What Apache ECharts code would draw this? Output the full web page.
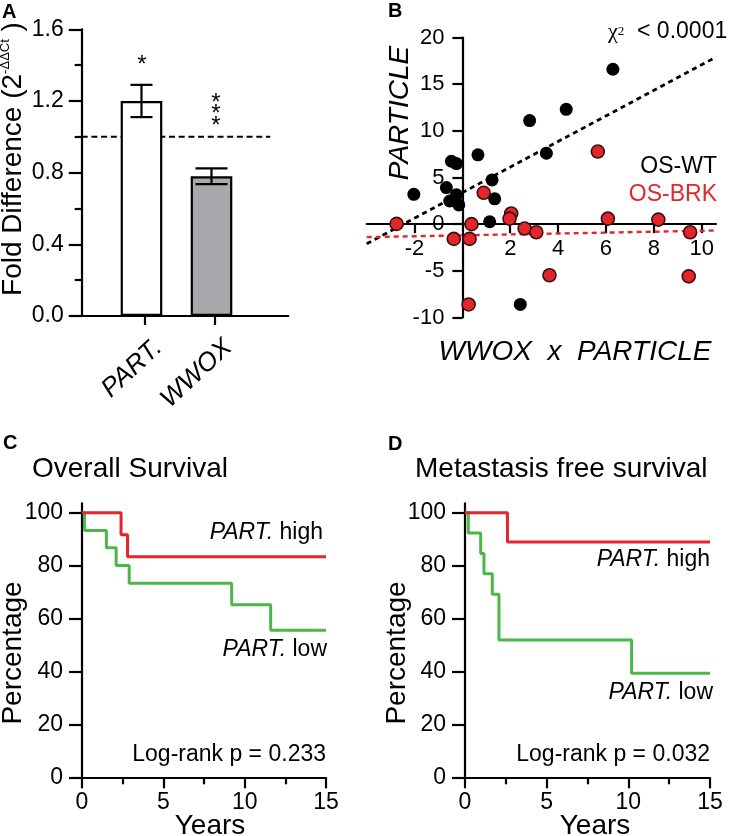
<!DOCTYPE html>
<html><head><meta charset="utf-8">
<script src="https://cdn.jsdelivr.net/npm/echarts@6/dist/echarts.min.js"></script>
<style>html,body{margin:0;padding:0;background:#fff;}#c{width:731px;height:836px;}</style>
</head><body><div id="c"></div>
<script>
// ---------- Panel A : fold difference ----------
const foldCategories = ['PART.', 'WWOX'];
const foldPositions = [1, 2];
const foldMeans = [1.2, 0.78];
const foldErrors = [0.09, 0.044];
const foldReference = 1.0;
const foldRefSpan = [0.146, 2.84];
const foldSignif = ['*', '***'];
// ---------- Panel B : scatter ----------
const wtX = [6.29, 4.34, 2.81, 3.51, 0.65, -0.46, -0.25, 1.24, -0.67, -2.03, -0.25, -0.53, 1.35, -0.15, 1.14, 2.42];
const wtY = [16.6, 12.3, 11.1, 7.6, 7.43, 6.74, 6.49, 4.74, 3.92, 3.2, 3.14, 2.48, 2.72, 2.06, 0.26, -8.6];
const brkX = [5.66, 0.89, 2.04, 1.97, 6.08, 8.19, -2.75, 0.38, 2.6, 3.09, 9.52, -0.36, 0.3, 3.64, 9.46, 0.26];
const brkY = [7.78, 3.36, 1.15, 0.59, 0.59, 0.49, 0.03, 0.0, -0.47, -0.87, -0.87, -1.58, -1.58, -5.47, -5.59, -8.6];
const wtFit = [[-4, -2.1], [10.6, 17.9]];
const brkFit = [[-4, -1.39], [10.6, -0.68]];
const scatterXRange = [-4, 10.6];
const scatterYRange = [-10, 20];
const scatterXTicks = [-2, 2, 4, 6, 8, 10];
const scatterGroups = ['OS-WT', 'OS-BRK'];
// ---------- Panel C : overall survival ----------
const osHighT = [0, 2.4, 2.8, 15];
const osHighS = [100, 91.7, 83.3, 83.3];
const osLowT = [0, 0.15, 1.5, 2.1, 2.9, 9.2, 11.6, 15];
const osLowS = [100, 93.3, 86.7, 80, 73.3, 65.2, 55.6, 55.6];
const osPval = 'Log-rank p = 0.233';
// ---------- Panel D : metastasis free survival ----------
const mfsHighT = [0, 2.6, 15];
const mfsHighS = [100, 88.9, 88.9];
const mfsLowT = [0, 0.2, 0.96, 1.16, 1.67, 2.08, 10.2, 15];
const mfsLowS = [100, 92.3, 84.6, 76.9, 69.2, 51.9, 39.3, 39.3];
const mfsPval = 'Log-rank p = 0.032';
const survTicks = [0, 20, 40, 60, 80, 100];

const FF = '"Liberation Sans", Arial, sans-serif';
const RED = '#e4252b', GREEN = '#4bb749', GRAY = '#a7a9ac';
const AX = {color: '#000', width: 2.2};
const barFills = ['#ffffff', GRAY];
const capHalf = [11, 16];

// layout of panel B (axes cross at the origin)
const gB = {left: 366.7, top: 37.5, width: 349.3, height: 280};
const x0px = gB.left + (0 - scatterXRange[0]) / (scatterXRange[1] - scatterXRange[0]) * gB.width;
const y0px = gB.top + (scatterYRange[1] - 0) / (scatterYRange[1] - scatterYRange[0]) * gB.height;

function pairs(xs, ys) { return xs.map((x, i) => [x, ys[i]]); }
function lbl(extra) { return Object.assign({color: '#000', fontFamily: FF, fontSize: 23}, extra); }
function hiddenAxis(gi, min, max) {
  return {gridIndex: gi, type: 'value', min: min, max: max, show: false,
    axisLine: {show: false}, axisTick: {show: false}, axisLabel: {show: false}, splitLine: {show: false}};
}

function txt(x, y, text, o) {
  o = o || {};
  const st = {
    text: text, fill: o.fill || '#000', fontFamily: o.family || FF,
    fontSize: o.size || 23, fontStyle: o.italic ? 'italic' : 'normal',
    fontWeight: o.bold ? 'bold' : 'normal',
    textAlign: o.align || 'center', align: o.align || 'center',
    textVerticalAlign: 'middle', verticalAlign: 'middle'
  };
  if (o.rich) st.rich = o.rich;
  return {type: 'text', x: x, y: y, rotation: o.rot || 0, style: st, z: 100};
}
const italicRich = {i: {fontStyle: 'italic', fontFamily: FF, fontSize: 23, fill: '#000', color: '#000'}};

const option = {
  animation: false,
  backgroundColor: '#fff',
  grid: [
    {left: 81.7, top: 29.3, width: 206.6, height: 286.7},
    gB,
    {left: x0px, top: gB.top, width: 1, height: gB.height},
    {left: gB.left, top: y0px - 10, width: gB.width, height: 10},
    {left: 82, top: 503.4, width: 244, height: 273.9},
    {left: 465, top: 503.4, width: 245, height: 273.9}
  ],
  xAxis: [
    {gridIndex: 0, type: 'value', min: 0.146, max: 3.097,
     axisLine: {show: true, onZero: false, lineStyle: AX},
     axisTick: {show: true, customValues: foldPositions.map(p => p + 0.05), length: 9, lineStyle: AX},
     axisLabel: {customValues: foldPositions.map(p => p + 0.24), rotate: 43, margin: 28,
       color: '#000', fontFamily: FF, fontSize: 26, fontStyle: 'italic',
       formatter: v => foldCategories[foldPositions.findIndex(p => Math.abs(p + 0.24 - v) < 0.01)] || ''},
     splitLine: {show: false}},
    hiddenAxis(1, scatterXRange[0], scatterXRange[1]),
    hiddenAxis(2, 0, 1),
    {gridIndex: 3, type: 'value', min: scatterXRange[0], max: scatterXRange[1], position: 'bottom',
     axisLine: {show: true, onZero: false, lineStyle: AX},
     axisTick: {show: true, customValues: scatterXTicks, length: 9, lineStyle: AX},
     axisLabel: lbl({customValues: scatterXTicks, fontSize: 22, margin: 14}),
     splitLine: {show: false}},
    {gridIndex: 4, type: 'value', min: 0, max: 15, interval: 5,
     axisLine: {show: true, onZero: false, lineStyle: AX},
     axisTick: {show: true, length: 11, lineStyle: AX},
     minorTick: {show: true, splitNumber: 2, length: 7, lineStyle: AX},
     axisLabel: lbl({margin: 14}), splitLine: {show: false}, minorSplitLine: {show: false}},
    {gridIndex: 5, type: 'value', min: 0, max: 15, interval: 5,
     axisLine: {show: true, onZero: false, lineStyle: AX},
     axisTick: {show: true, length: 11, lineStyle: AX},
     minorTick: {show: true, splitNumber: 2, length: 7, lineStyle: AX},
     axisLabel: lbl({margin: 14}), splitLine: {show: false}, minorSplitLine: {show: false}}
  ],
  yAxis: [
    {gridIndex: 0, type: 'value', min: 0, max: 1.6, interval: 0.4,
     axisLine: {show: true, onZero: false, lineStyle: AX},
     axisTick: {show: true, length: 13, lineStyle: AX},
     minorTick: {show: true, splitNumber: 2, length: 7, lineStyle: AX},
     axisLabel: lbl({margin: 18, formatter: v => v.toFixed(1)}),
     splitLine: {show: false}, minorSplitLine: {show: false}},
    hiddenAxis(1, scatterYRange[0], scatterYRange[1]),
    {gridIndex: 2, type: 'value', min: scatterYRange[0], max: scatterYRange[1], interval: 5, position: 'left',
     axisLine: {show: true, onZero: false, lineStyle: AX},
     axisTick: {show: true, length: 10, lineStyle: AX},
     axisLabel: lbl({margin: 18, fontSize: 22}), splitLine: {show: false}},
    hiddenAxis(3, 0, 1),
    {gridIndex: 4, type: 'value', min: 0, max: 103.5,
     axisLine: {show: true, onZero: false, lineStyle: AX},
     axisTick: {show: true, customValues: survTicks, length: 13, lineStyle: AX},
     axisLabel: lbl({customValues: survTicks, margin: 19}), splitLine: {show: false}},
    {gridIndex: 5, type: 'value', min: 0, max: 103.5,
     axisLine: {show: true, onZero: false, lineStyle: AX},
     axisTick: {show: true, customValues: survTicks, length: 13, lineStyle: AX},
     axisLabel: lbl({customValues: survTicks, margin: 19}), splitLine: {show: false}}
  ],
  series: [
    // A
    {type: 'line', xAxisIndex: 0, yAxisIndex: 0, z: 1, symbol: 'none',
     data: foldRefSpan.map(x => [x, foldReference]),
     lineStyle: {color: '#000', width: 2, type: [6, 3.7]}},
    {type: 'bar', xAxisIndex: 0, yAxisIndex: 0, z: 2, barWidth: 41.6,
     data: foldPositions.map((p, i) => ({value: [p, foldMeans[i]], itemStyle: {color: barFills[i]}})),
     itemStyle: {borderColor: '#000', borderWidth: 2.2}},
    {type: 'custom', xAxisIndex: 0, yAxisIndex: 0, z: 3,
     data: foldPositions.map((p, i) => [p, foldMeans[i] - foldErrors[i], foldMeans[i] + foldErrors[i]]),
     renderItem: function (params, api) {
       const x = api.value(0);
       const lo = api.coord([x, api.value(1)]), hi = api.coord([x, api.value(2)]);
       const h = capHalf[params.dataIndex];
       const s = {stroke: '#000', lineWidth: 2.2};
       return {type: 'group', children: [
         {type: 'line', shape: {x1: hi[0], y1: hi[1], x2: lo[0], y2: lo[1]}, style: s},
         {type: 'line', shape: {x1: hi[0] - h, y1: hi[1], x2: hi[0] + h, y2: hi[1]}, style: s},
         {type: 'line', shape: {x1: lo[0] - h, y1: lo[1], x2: lo[0] + h, y2: lo[1]}, style: s}
       ]};
     }},
    // B
    {type: 'line', xAxisIndex: 1, yAxisIndex: 1, z: 1, symbol: 'none', data: wtFit,
     lineStyle: {color: '#000', width: 2.8, type: [5, 4]}},
    {type: 'line', xAxisIndex: 1, yAxisIndex: 1, z: 1, symbol: 'none', data: brkFit,
     lineStyle: {color: RED, width: 2.4, type: [5, 4]}},
    {type: 'scatter', name: scatterGroups[0], xAxisIndex: 1, yAxisIndex: 1, z: 3, symbolSize: 13,
     data: pairs(wtX, wtY), itemStyle: {color: '#000', opacity: 1}},
    {type: 'scatter', name: scatterGroups[1], xAxisIndex: 1, yAxisIndex: 1, z: 4, symbolSize: 13,
     data: pairs(brkX, brkY), itemStyle: {color: RED, borderColor: '#3a1010', borderWidth: 1.6, opacity: 1}},
    // C
    {type: 'line', xAxisIndex: 4, yAxisIndex: 4, step: 'end', symbol: 'none', z: 2,
     data: pairs(osLowT, osLowS), lineStyle: {color: GREEN, width: 3}},
    {type: 'line', xAxisIndex: 4, yAxisIndex: 4, step: 'end', symbol: 'none', z: 3,
     data: pairs(osHighT, osHighS), lineStyle: {color: RED, width: 3}},
    // D
    {type: 'line', xAxisIndex: 5, yAxisIndex: 5, step: 'end', symbol: 'none', z: 2,
     data: pairs(mfsLowT, mfsLowS), lineStyle: {color: GREEN, width: 3}},
    {type: 'line', xAxisIndex: 5, yAxisIndex: 5, step: 'end', symbol: 'none', z: 3,
     data: pairs(mfsHighT, mfsHighS), lineStyle: {color: RED, width: 3}}
  ],
  graphic: {elements: [
    txt(2, 12, 'A', {bold: true, size: 20, align: 'left'}),
    txt(388, 11, 'B', {bold: true, size: 20, align: 'left'}),
    txt(3, 443, 'C', {bold: true, size: 20, align: 'left'}),
    txt(388, 444, 'D', {bold: true, size: 20, align: 'left'}),
    // A
    txt(13, 159, 'Fold Difference (2{sup|-ΔΔCt} )', {size: 28, rot: Math.PI / 2,
      rich: {sup: {fontSize: 13, fontFamily: FF, verticalAlign: 'top', fill: '#000', color: '#000'}}}),
    txt(142, 65, foldSignif[0], {size: 24}),
    txt(216, 103, foldSignif[1][0], {size: 24}),
    txt(216, 114.5, foldSignif[1][1], {size: 24}),
    txt(216, 126, foldSignif[1][2], {size: 24}),
    // B
    txt(400, 113, 'PARTICLE', {size: 28, italic: true, rot: Math.PI / 2}),
    txt(575, 352, 'WWOX  x  PARTICLE', {size: 28, italic: true}),
    txt(608, 32, '{chi|χ}{sub|2}{t|  < 0.0001}', {size: 23, align: 'left', rich: {
      chi: {fontFamily: '"Liberation Serif", serif', fontSize: 22, fill: '#000', color: '#000'},
      sub: {fontFamily: '"Liberation Serif", serif', fontSize: 13, fill: '#000', color: '#000'},
      t: {fontFamily: FF, fontSize: 23, fill: '#000', color: '#000'}}}),
    txt(717, 167, scatterGroups[0], {size: 23, align: 'right'}),
    txt(717, 195, scatterGroups[1], {size: 23, align: 'right', fill: RED}),
    // C
    txt(32, 469, 'Overall Survival', {size: 28, align: 'left'}),
    txt(13, 653, 'Percentage', {size: 28, rot: Math.PI / 2}),
    txt(210, 826, 'Years', {size: 28}),
    txt(323, 533, '{i|PART.} high', {align: 'right', rich: italicRich}),
    txt(327, 650, '{i|PART.} low', {align: 'right', rich: italicRich}),
    txt(326, 755, osPval, {align: 'right'}),
    // D
    txt(415, 469, 'Metastasis free survival', {size: 28, align: 'left'}),
    txt(397, 653, 'Percentage', {size: 28, rot: Math.PI / 2}),
    txt(595, 826, 'Years', {size: 28}),
    txt(710, 560, '{i|PART.} high', {align: 'right', rich: italicRich}),
    txt(713, 693, '{i|PART.} low', {align: 'right', rich: italicRich}),
    txt(710, 755, mfsPval, {align: 'right'})
  ]}
};
const chart = echarts.init(document.getElementById('c'), null, {renderer: 'canvas'});
chart.setOption(option);
</script></body></html>
